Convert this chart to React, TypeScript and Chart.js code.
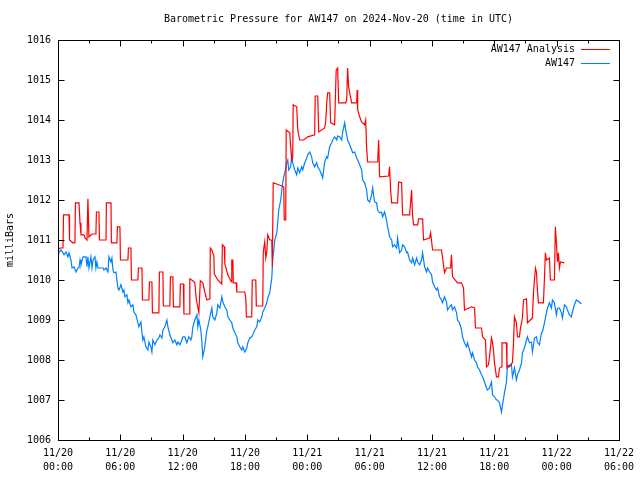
import React, { useEffect, useRef } from "react";
import { Chart, registerables } from "chart.js";

Chart.register(...registerables);

const chartTitle = "Barometric Pressure for AW147 on 2024-Nov-20 (time in UTC)";
const yAxisTitle = "milliBars";
const seriesNames = ["AW147 Analysis", "AW147"];
const seriesColors = ["#ff0000", "#0080ff"];

// x axis: hours since 2024-11-20 00:00 UTC
const tickDates = ["11/20", "11/20", "11/20", "11/20", "11/21", "11/21", "11/21", "11/21", "11/22", "11/22"];
const tickTimes = ["00:00", "06:00", "12:00", "18:00", "00:00", "06:00", "12:00", "18:00", "00:00", "06:00"];
const xMinHours = 0;
const xMaxHours = 54;
const yMin = 1006;
const yMax = 1016;

// [hours, mbar]
const analysisReadings: [number, number][] = [
  [0, 1010.75], [0.19, 1010.8], [0.48, 1010.8], [0.53, 1011.63], [1.06, 1011.63], [1.11, 1011.0],
  [1.44, 1010.93], [1.63, 1010.93], [1.68, 1011.93], [2.02, 1011.93], [2.12, 1011.43], [2.21, 1011.13],
  [2.5, 1011.13], [2.6, 1011.05], [2.79, 1011.0], [2.88, 1012.03], [2.98, 1011.08], [3.27, 1011.15],
  [3.65, 1011.15], [3.7, 1011.7], [3.94, 1011.7], [3.99, 1011.0], [4.62, 1011.0], [4.66, 1011.93],
  [5.1, 1011.93], [5.14, 1010.93], [5.67, 1010.93], [5.72, 1011.33], [5.96, 1011.33], [6.01, 1010.5],
  [6.73, 1010.5], [6.78, 1010.8], [7.02, 1010.8], [7.07, 1010.0], [7.69, 1010.0], [7.74, 1010.3],
  [8.08, 1010.3], [8.13, 1009.5], [8.75, 1009.5], [8.8, 1009.95], [9.04, 1009.95], [9.09, 1009.18],
  [9.71, 1009.18], [9.76, 1010.2], [10.1, 1010.2], [10.14, 1009.35], [10.77, 1009.35], [10.82, 1010.08],
  [11.06, 1010.08], [11.11, 1009.33], [11.73, 1009.33], [11.78, 1009.9], [12.07, 1009.9], [12.12, 1009.15],
  [12.64, 1009.15], [12.69, 1010.03], [12.98, 1009.98], [13.17, 1009.93], [13.32, 1009.5], [13.56, 1009.18],
  [13.7, 1009.98], [13.94, 1009.93], [14.13, 1009.7], [14.33, 1009.5], [14.62, 1009.53], [14.66, 1010.8],
  [14.81, 1010.75], [15.0, 1010.6], [15.05, 1010.15], [15.38, 1010.0], [15.77, 1009.9], [15.82, 1010.88],
  [16.01, 1010.83], [16.06, 1010.4], [16.35, 1010.13], [16.68, 1009.95], [16.73, 1010.5], [16.83, 1010.5],
  [16.88, 1009.93], [17.16, 1009.93], [17.21, 1009.7], [17.98, 1009.7], [18.08, 1009.55], [18.13, 1009.08],
  [18.65, 1009.08], [18.7, 1010.0], [19.04, 1010.0], [19.09, 1009.35], [19.71, 1009.35], [19.76, 1010.7],
  [19.9, 1010.95], [20.0, 1010.55], [20.1, 1010.7], [20.19, 1011.13], [20.38, 1011.0], [20.58, 1011.0],
  [20.63, 1010.33], [20.67, 1010.33], [20.72, 1012.43], [21.25, 1012.38], [21.73, 1012.33], [21.78, 1011.5],
  [21.92, 1011.5], [21.97, 1013.75], [22.31, 1013.68], [22.4, 1013.33], [22.5, 1013.0], [22.6, 1013.08],
  [22.64, 1014.38], [22.98, 1014.33], [23.08, 1013.75], [23.27, 1013.5], [23.65, 1013.5], [24.04, 1013.58],
  [24.71, 1013.63], [24.76, 1014.6], [25.0, 1014.6], [25.1, 1013.7], [25.67, 1013.8], [25.77, 1013.95],
  [25.87, 1014.43], [25.96, 1014.68], [26.15, 1014.68], [26.25, 1013.93], [26.63, 1013.88], [26.78, 1015.25],
  [26.92, 1015.3], [27.02, 1014.43], [27.69, 1014.43], [27.79, 1014.5], [27.88, 1015.3], [27.98, 1014.83],
  [28.08, 1014.68], [28.27, 1014.43], [28.75, 1014.43], [28.8, 1014.75], [28.85, 1014.25], [29.04, 1014.08],
  [29.23, 1013.95], [29.52, 1013.88], [29.62, 1014.0], [29.71, 1013.3], [29.81, 1012.95], [30.77, 1012.95],
  [30.87, 1013.5], [30.96, 1012.58], [31.83, 1012.6], [31.92, 1012.83], [32.02, 1012.25], [32.12, 1011.93],
  [32.69, 1011.93], [32.79, 1012.45], [33.08, 1012.43], [33.17, 1011.63], [33.85, 1011.63], [34.04, 1012.25],
  [34.13, 1011.63], [34.23, 1011.38], [34.62, 1011.38], [34.71, 1011.53], [35.1, 1011.53], [35.19, 1011.0],
  [35.77, 1011.05], [35.87, 1011.18], [36.06, 1010.75], [36.92, 1010.75], [37.02, 1010.55], [37.21, 1010.18],
  [37.4, 1010.3], [37.79, 1010.3], [37.88, 1010.63], [37.98, 1010.08], [38.46, 1009.93], [38.85, 1009.93],
  [39.04, 1009.8], [39.13, 1009.25], [39.81, 1009.33], [40.1, 1009.3], [40.19, 1008.8], [40.77, 1008.8],
  [40.87, 1008.58], [41.15, 1008.5], [41.25, 1007.83], [41.44, 1007.88], [41.54, 1008.08], [41.73, 1008.55],
  [41.83, 1008.43], [41.92, 1008.25], [42.02, 1007.93], [42.21, 1007.58], [42.4, 1007.58], [42.5, 1007.8],
  [42.69, 1007.83], [42.74, 1008.43], [43.17, 1008.43], [43.22, 1007.8], [43.75, 1007.93], [43.85, 1008.43],
  [43.94, 1009.08], [44.13, 1008.93], [44.23, 1008.58], [44.42, 1008.58], [44.52, 1008.8], [44.71, 1009.05],
  [44.81, 1009.5], [45.1, 1009.53], [45.19, 1008.93], [45.67, 1009.05], [45.77, 1009.68], [45.96, 1010.3],
  [46.06, 1010.2], [46.15, 1009.75], [46.25, 1009.43], [46.73, 1009.43], [46.83, 1010.05], [46.92, 1010.68],
  [47.02, 1010.5], [47.31, 1010.55], [47.4, 1010.0], [47.79, 1010.0], [47.88, 1011.33], [47.98, 1010.93],
  [48.08, 1010.45], [48.17, 1010.68], [48.27, 1010.3], [48.37, 1010.45], [48.75, 1010.43],
];

// [hours, mbar]
const stationReadings: [number, number][] = [
  [0, 1010.55], [0.1, 1010.7], [0.29, 1010.75], [0.48, 1010.68], [0.58, 1010.63], [0.77, 1010.7],
  [0.96, 1010.58], [1.06, 1010.68], [1.25, 1010.5], [1.35, 1010.3], [1.54, 1010.33], [1.73, 1010.2],
  [1.92, 1010.3], [2.02, 1010.3], [2.12, 1010.5], [2.21, 1010.38], [2.4, 1010.58], [2.69, 1010.58],
  [2.79, 1010.33], [2.88, 1010.58], [2.98, 1010.3], [3.17, 1010.58], [3.27, 1010.3], [3.37, 1010.5],
  [3.56, 1010.58], [3.65, 1010.3], [3.75, 1010.45], [3.85, 1010.3], [4.33, 1010.3], [4.42, 1010.25],
  [4.62, 1010.3], [4.81, 1010.2], [4.9, 1010.58], [5.1, 1010.45], [5.19, 1010.55], [5.29, 1010.25],
  [5.38, 1010.18], [5.58, 1010.2], [5.67, 1010.0], [5.77, 1009.8], [5.87, 1009.75], [6.06, 1009.88],
  [6.25, 1009.7], [6.35, 1009.75], [6.44, 1009.58], [6.63, 1009.63], [6.73, 1009.43], [6.83, 1009.5],
  [7.02, 1009.33], [7.21, 1009.38], [7.31, 1009.2], [7.5, 1009.13], [7.69, 1008.93], [7.79, 1008.83],
  [7.98, 1008.95], [8.08, 1008.68], [8.17, 1008.5], [8.27, 1008.58], [8.46, 1008.33], [8.65, 1008.25],
  [8.75, 1008.45], [8.94, 1008.33], [9.04, 1008.2], [9.13, 1008.5], [9.33, 1008.38], [9.52, 1008.5],
  [9.71, 1008.55], [9.81, 1008.63], [10.0, 1008.55], [10.1, 1008.75], [10.29, 1008.83], [10.48, 1009.0],
  [10.58, 1008.83], [10.77, 1008.63], [10.96, 1008.5], [11.06, 1008.43], [11.25, 1008.5], [11.44, 1008.38],
  [11.54, 1008.45], [11.73, 1008.38], [11.92, 1008.5], [12.02, 1008.58], [12.21, 1008.58], [12.4, 1008.43],
  [12.6, 1008.58], [12.79, 1008.5], [12.88, 1008.58], [12.98, 1008.83], [13.17, 1009.0], [13.37, 1009.13],
  [13.46, 1008.83], [13.56, 1009.0], [13.75, 1008.75], [13.85, 1008.45], [13.94, 1008.08], [14.13, 1008.33],
  [14.33, 1008.75], [14.42, 1008.83], [14.62, 1009.08], [14.81, 1009.3], [14.9, 1009.08], [15.1, 1009.0],
  [15.29, 1009.18], [15.38, 1009.38], [15.58, 1009.3], [15.77, 1009.58], [15.87, 1009.45], [16.06, 1009.33],
  [16.25, 1009.25], [16.35, 1009.08], [16.54, 1009.0], [16.73, 1008.93], [16.83, 1008.8], [17.02, 1008.68],
  [17.21, 1008.58], [17.31, 1008.43], [17.5, 1008.33], [17.69, 1008.25], [17.79, 1008.33], [17.98, 1008.2],
  [18.17, 1008.3], [18.27, 1008.43], [18.46, 1008.55], [18.65, 1008.58], [18.75, 1008.63], [18.94, 1008.75],
  [19.13, 1008.83], [19.23, 1009.0], [19.42, 1008.95], [19.62, 1009.08], [19.71, 1009.2], [19.9, 1009.3],
  [20.1, 1009.43], [20.19, 1009.55], [20.38, 1009.68], [20.58, 1010.05], [20.67, 1010.5], [20.87, 1011.0],
  [21.06, 1011.18], [21.15, 1011.43], [21.25, 1011.75], [21.44, 1012.0], [21.54, 1012.25], [21.63, 1012.43],
  [21.73, 1012.58], [21.83, 1012.68], [22.02, 1012.93], [22.12, 1013.0], [22.21, 1012.75], [22.4, 1012.83],
  [22.5, 1013.13], [22.6, 1012.93], [22.79, 1012.75], [22.98, 1012.63], [23.08, 1012.8], [23.27, 1012.68],
  [23.46, 1012.83], [23.56, 1012.75], [23.75, 1012.93], [23.94, 1013.05], [24.04, 1013.13], [24.23, 1013.2],
  [24.42, 1013.08], [24.52, 1012.93], [24.71, 1012.83], [24.9, 1012.93], [25.0, 1012.83], [25.19, 1012.75],
  [25.38, 1012.63], [25.48, 1012.55], [25.67, 1012.95], [25.87, 1013.08], [25.96, 1013.05], [26.15, 1013.33],
  [26.35, 1013.43], [26.44, 1013.5], [26.63, 1013.58], [26.83, 1013.5], [26.92, 1013.6], [27.12, 1013.58],
  [27.31, 1013.5], [27.4, 1013.7], [27.6, 1013.93], [27.69, 1013.75], [27.79, 1013.63], [27.88, 1013.5],
  [28.08, 1013.38], [28.27, 1013.25], [28.37, 1013.18], [28.56, 1013.2], [28.75, 1013.05], [28.85, 1013.0],
  [29.04, 1012.88], [29.23, 1012.75], [29.33, 1012.5], [29.52, 1012.43], [29.71, 1012.25], [29.81, 1012.0],
  [30.0, 1011.95], [30.19, 1012.13], [30.29, 1012.3], [30.48, 1011.95], [30.67, 1011.93], [30.77, 1011.75],
  [30.96, 1011.68], [31.15, 1011.7], [31.25, 1011.58], [31.44, 1011.7], [31.63, 1011.5], [31.73, 1011.33],
  [31.92, 1011.08], [32.12, 1011.0], [32.21, 1010.83], [32.4, 1010.88], [32.6, 1010.8], [32.69, 1011.05],
  [32.88, 1010.68], [33.08, 1010.75], [33.17, 1010.88], [33.37, 1010.83], [33.56, 1010.68], [33.65, 1010.7],
  [33.85, 1010.5], [34.04, 1010.43], [34.13, 1010.55], [34.33, 1010.38], [34.52, 1010.55], [34.62, 1010.45],
  [34.81, 1010.38], [35.0, 1010.5], [35.1, 1010.68], [35.29, 1010.33], [35.48, 1010.2], [35.58, 1010.3],
  [35.77, 1010.2], [35.96, 1010.13], [36.06, 1009.95], [36.25, 1009.83], [36.44, 1009.75], [36.54, 1009.8],
  [36.73, 1009.58], [36.92, 1009.5], [37.02, 1009.43], [37.21, 1009.58], [37.4, 1009.45], [37.5, 1009.25],
  [37.69, 1009.33], [37.88, 1009.38], [37.98, 1009.25], [38.17, 1009.33], [38.37, 1009.18], [38.46, 1009.0],
  [38.65, 1008.93], [38.85, 1008.75], [38.94, 1008.58], [39.13, 1008.43], [39.33, 1008.33], [39.42, 1008.43],
  [39.62, 1008.25], [39.81, 1008.08], [39.9, 1008.18], [40.1, 1008.0], [40.29, 1007.93], [40.38, 1007.83],
  [40.58, 1007.75], [40.77, 1007.63], [40.87, 1007.58], [41.06, 1007.45], [41.25, 1007.3], [41.35, 1007.25],
  [41.54, 1007.3], [41.73, 1007.45], [41.83, 1007.13], [42.02, 1007.08], [42.21, 1007.0], [42.31, 1007.0],
  [42.5, 1006.93], [42.69, 1006.7], [42.79, 1006.88], [42.98, 1007.18], [43.17, 1007.45], [43.27, 1007.88],
  [43.46, 1007.83], [43.65, 1007.88], [43.75, 1007.58], [43.94, 1007.8], [44.13, 1007.5], [44.23, 1007.63],
  [44.42, 1007.75], [44.62, 1007.93], [44.71, 1008.18], [44.9, 1008.3], [45.1, 1008.5], [45.19, 1008.58],
  [45.38, 1008.43], [45.58, 1008.45], [45.67, 1008.2], [45.87, 1008.55], [46.06, 1008.58], [46.15, 1008.45],
  [46.35, 1008.38], [46.54, 1008.68], [46.63, 1008.7], [46.83, 1008.93], [47.02, 1009.18], [47.12, 1009.3],
  [47.31, 1009.43], [47.5, 1009.3], [47.6, 1009.5], [47.79, 1009.43], [47.98, 1009.13], [48.08, 1009.3],
  [48.27, 1009.3], [48.46, 1009.18], [48.56, 1009.05], [48.75, 1009.38], [48.94, 1009.33], [49.04, 1009.25],
  [49.23, 1009.13], [49.42, 1009.08], [49.52, 1009.2], [49.71, 1009.38], [49.9, 1009.5], [50.19, 1009.45],
  [50.38, 1009.4],
];

const FONT = '10px "DejaVu Sans Mono", "Liberation Mono", monospace';

const gnuplotFrame = {
  id: "gnuplotFrame",
  afterDraw(chart: any) {
    const { ctx, chartArea: a, scales } = chart;
    const xs = scales.x;
    const ys = scales.y;
    const L = Math.round(a.left) + 0.5;
    const R = Math.round(a.right) + 0.5;
    const T = Math.round(a.top) + 0.5;
    const B = Math.round(a.bottom) + 0.5;
    ctx.save();
    ctx.strokeStyle = "#000";
    ctx.lineWidth = 1;
    ctx.beginPath();
    for (let h = xMinHours; h <= xMaxHours; h += 3) {
      const len = h % 6 === 0 ? 6 : 3;
      const px = Math.round(xs.getPixelForValue(h)) + 0.5;
      ctx.moveTo(px, B);
      ctx.lineTo(px, B - len);
      ctx.moveTo(px, T);
      ctx.lineTo(px, T + len);
    }
    for (let v = yMin; v <= yMax; v += 1) {
      const py = Math.round(ys.getPixelForValue(v)) + 0.5;
      ctx.moveTo(L, py);
      ctx.lineTo(L + 6, py);
      ctx.moveTo(R, py);
      ctx.lineTo(R - 6, py);
    }
    ctx.stroke();
    ctx.strokeRect(L, T, R - L, B - T);

    ctx.fillStyle = "#000";
    ctx.font = FONT;
    ctx.textBaseline = "middle";
    ctx.textAlign = "center";
    ctx.fillText(chartTitle, (a.left + a.right) / 2, 19);
    ctx.save();
    ctx.translate(10, (a.top + a.bottom) / 2);
    ctx.rotate(-Math.PI / 2);
    ctx.fillText(yAxisTitle, 0, 0);
    ctx.restore();
    ctx.textAlign = "right";
    const rows = [49, 63];
    chart.data.datasets.forEach((ds: any, i: number) => {
      const y = rows[i];
      ctx.fillStyle = "#000";
      ctx.fillText(ds.label, 575, y);
      ctx.strokeStyle = ds.borderColor;
      ctx.beginPath();
      ctx.moveTo(581, y + 0.5);
      ctx.lineTo(610, y + 0.5);
      ctx.stroke();
    });
    ctx.restore();
  },
};

export default function App() {
  const ref = useRef<HTMLCanvasElement | null>(null);
  useEffect(() => {
    if (!ref.current) return;
    const chart = new Chart(ref.current, {
      type: "line",
      data: {
        datasets: [
          {
            label: seriesNames[0],
            data: analysisReadings.map(([x, y]) => ({ x, y })),
            borderColor: seriesColors[0],
            borderWidth: 1.2,
            pointRadius: 0,
            tension: 0,
            fill: false,
          },
          {
            label: seriesNames[1],
            data: stationReadings.map(([x, y]) => ({ x, y })),
            borderColor: seriesColors[1],
            borderWidth: 1.2,
            pointRadius: 0,
            tension: 0,
            fill: false,
          },
        ],
      },
      options: {
        animation: false,
        responsive: false,
        devicePixelRatio: 1,
        layout: { padding: { top: 40, right: 20, left: 0, bottom: 0 } },
        plugins: {
          legend: { display: false },
          title: { display: false },
          tooltip: { enabled: false },
        },
        scales: {
          x: {
            type: "linear",
            min: xMinHours,
            max: xMaxHours,
            grid: { display: false, drawTicks: false },
            border: { display: false },
            afterFit: (s: any) => {
              s.height = 40;
            },
            ticks: {
              stepSize: 6,
              autoSkip: false,
              maxRotation: 0,
              padding: 6,
              color: "#000",
              font: { family: '"DejaVu Sans Mono", "Liberation Mono", monospace', size: 10, lineHeight: 1.4 },
              callback: (value: any) => {
                const i = Math.round((Number(value) - xMinHours) / 6);
                return [tickDates[i] ?? "", tickTimes[i] ?? ""];
              },
            },
          },
          y: {
            min: yMin,
            max: yMax,
            grid: { display: false, drawTicks: false },
            border: { display: false },
            afterFit: (s: any) => {
              s.width = 58;
            },
            ticks: {
              stepSize: 1,
              padding: 7,
              color: "#000",
              font: { family: '"DejaVu Sans Mono", "Liberation Mono", monospace', size: 10 },
              callback: (value: any) => String(value),
            },
          },
        },
      },
      plugins: [gnuplotFrame],
    });
    return () => chart.destroy();
  }, []);
  return (
    <div style={{ position: "absolute", left: 0, top: 0, width: 640, height: 480, background: "#fff" }}>
      <canvas ref={ref} width={640} height={480} />
    </div>
  );
}
